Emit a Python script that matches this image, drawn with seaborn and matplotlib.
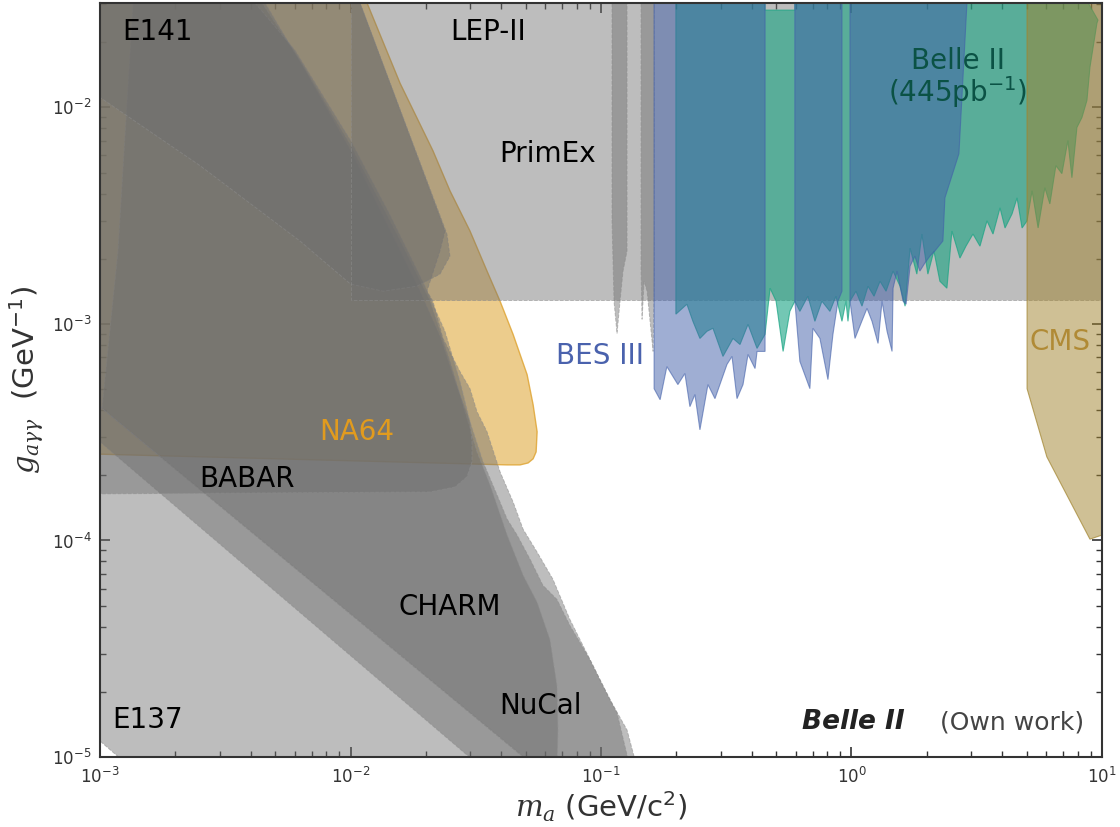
import numpy as np
import matplotlib
matplotlib.use("Agg")
import matplotlib.pyplot as plt
from matplotlib.colors import to_rgba
import seaborn as sns

# ---------------- data (log10 of m_a [GeV] and of g_agg [GeV^-1]) ----------------
LEP_LOGM = [-2.0, -2.0, 1.05, 1.05]
LEP_LOGG = [-1.45, -2.891, -2.891, -1.45]

E137_LOGM = [-3.05, -1.257, -2.876, -3.05]
E137_LOGG = [-3.334, -5.05, -5.05, -4.876]

NUCAL_OUT_LOGM = [-3.05, -1.475, -0.856, -0.896, -0.964, -1.044, -1.124, -1.192, -1.255, -1.311,
                  -1.351, -1.403, -1.455, -1.495, -1.523, -1.563, -1.631, -1.671, -1.695, -1.643,
                  -1.623, -1.962, -1.97, -3.05]
NUCAL_OUT_LOGG = [-3.495, -5.05, -5.05, -4.875, -4.736, -4.550, -4.365, -4.179, -4.054, -3.948,
                  -3.822, -3.683, -3.498, -3.405, -3.299, -3.220, -3.067, -2.895, -2.849, -2.663,
                  -2.571, -1.518, -1.45, -1.45]

NUCAL_IN_LOGM = [-3.05, -1.257, -0.884, -0.936, -0.992, -1.044, -1.124, -1.176, -1.232, -1.283,
                 -1.335, -1.375, -1.415, -1.471, -1.523, -1.583, -1.643, -1.723, -1.842, -2.0,
                 -2.182, -2.341, -2.36, -3.05]
NUCAL_IN_LOGG = [-3.334, -5.05, -5.05, -4.796, -4.671, -4.55, -4.393, -4.272, -4.207, -4.087,
                 -3.975, -3.901, -3.790, -3.637, -3.452, -3.266, -3.058, -2.849, -2.571, -2.2,
                 -1.829, -1.518, -1.45, -1.45]

CHARM_LOGM = [-2.868, -2.868, -2.928, -2.992, -1.257, -1.176, -1.172, -1.176, -1.204, -1.255,
              -1.311, -1.375, -1.443, -1.495, -1.543, -1.603, -1.683, -1.802, -2.0, -2.202,
              -2.353, -2.37]
CHARM_LOGG = [-1.45, -1.518, -2.663, -3.39, -5.05, -5.05, -4.875, -4.671, -4.458, -4.286,
              -4.161, -3.975, -3.744, -3.591, -3.405, -3.173, -2.895, -2.617, -2.177, -1.783,
              -1.518, -1.45]

BABAR_LOGM = [-3.05, -3.05, -1.683, -1.583, -1.535, -1.515, -1.515, -1.523, -1.563, -1.623,
              -1.703, -1.842, -2.0, -2.222, -2.381, -2.40]
BABAR_LOGG = [-1.45, -3.785, -3.776, -3.753, -3.706, -3.637, -3.544, -3.452, -3.266, -3.034,
              -2.826, -2.499, -2.153, -1.736, -1.518, -1.45]

E141_LOGM = [-3.05, -1.97, -1.962, -1.615, -1.603, -1.643, -1.735, -1.870, -2.0, -2.202,
             -2.601, -3.0, -3.05]
E141_LOGG = [-1.45, -1.45, -1.518, -2.585, -2.687, -2.770, -2.826, -2.849, -2.816, -2.617,
             -2.269, -1.954, -1.93]

NA64_LOGM = [-3.05, -1.375, -1.323, -1.291, -1.271, -1.259, -1.255, -1.271, -1.295, -1.351,
             -1.403, -1.455, -1.523, -1.603, -1.671, -1.802, -1.934, -1.952, -3.05]
NA64_LOGG = [-3.60, -3.651, -3.651, -3.642, -3.623, -3.591, -3.498, -3.373, -3.234, -3.048,
             -2.895, -2.756, -2.571, -2.385, -2.2, -1.889, -1.518, -1.45, -1.45]

PRIMEX1_LOGM = [-0.956, -0.956, -0.948, -0.936, -0.924, -0.912, -0.896, -0.896]
PRIMEX1_LOGG = [-1.45, -2.524, -2.895, -3.044, -2.895, -2.756, -2.663, -1.45]
PRIMEX2_LOGM = [-0.840, -0.840, -0.836, -0.828, -0.816, -0.804, -0.792, -0.788, -0.788]
PRIMEX2_LOGG = [-1.45, -2.756, -2.979, -2.803, -2.849, -2.988, -3.127, -2.803, -1.45]

BES1_LOGM = [-0.788, -0.788, -0.764, -0.737, -0.693, -0.665, -0.645, -0.625, -0.605, -0.573,
             -0.545, -0.497, -0.477, -0.457, -0.433, -0.413, -0.385, -0.377, -0.345, -0.345]
BES1_LOGG = [-1.45, -3.299, -3.350, -3.197, -3.280, -3.229, -3.382, -3.326, -3.489, -3.280,
             -3.345, -3.187, -3.150, -3.345, -3.280, -3.141, -3.206, -3.127, -3.127, -1.45]
BES2_LOGM = [-0.226, -0.226, -0.206, -0.166, -0.154, -0.126, -0.094, -0.074, -0.054, -0.038, -0.038]
BES2_LOGG = [-1.45, -2.895, -3.173, -3.299, -3.020, -3.067, -3.257, -3.048, -2.895, -2.849, -1.45]
BES3_LOGM = [-0.006, -0.006, 0.014, 0.046, 0.062, 0.082, 0.106, 0.122, 0.142, 0.162, 0.166,
             0.182, 0.206, 0.218, 0.234, 0.253, 0.273, 0.293, 0.313, 0.333, 0.365, 0.373,
             0.429, 0.461, 0.47]
BES3_LOGG = [-1.45, -2.895, -3.067, -2.974, -2.928, -2.988, -3.090, -2.895, -3.034, -3.127, -2.835,
             -2.756, -2.895, -2.909, -2.733, -2.687, -2.756, -2.719, -2.687, -2.663, -2.617, -2.418,
             -2.214, -1.518, -1.45]

BELLE_LOGM = [-0.701, -0.701, -0.657, -0.633, -0.605, -0.577, -0.553, -0.513, -0.473, -0.445,
              -0.413, -0.377, -0.345, -0.325, -0.301, -0.273, -0.246, -0.226, -0.206, -0.174,
              -0.146, -0.118, -0.086, -0.062, -0.038, -0.022, -0.014, -0.006, 0.018, 0.042,
              0.066, 0.090, 0.114, 0.138, 0.166, 0.194, 0.214, 0.234, 0.261, 0.281,
              0.305, 0.329, 0.353, 0.381, 0.401, 0.433, 0.457, 0.485, 0.513, 0.541,
              0.565, 0.593, 0.613, 0.641, 0.661, 0.681, 0.701, 0.721, 0.745, 0.772,
              0.792, 0.816, 0.840, 0.864, 0.880, 0.900, 0.920, 0.940, 0.952, 0.980,
              0.984, 0.912, -0.226, -0.226, -0.345, -0.345]
BELLE_LOGG = [-1.45, -2.955, -2.909, -2.988, -3.067, -3.034, -3.020, -3.150, -3.067, -3.095,
              -3.002, -3.113, -3.048, -2.835, -2.895, -3.127, -2.942, -2.895, -2.942, -2.872,
              -2.988, -2.895, -2.942, -2.872, -2.988, -2.895, -2.988, -2.895, -2.849, -2.918,
              -2.826, -2.872, -2.803, -2.849, -2.756, -2.826, -2.918, -2.650, -2.770, -2.585,
              -2.770, -2.663, -2.803, -2.835, -2.571, -2.696, -2.641, -2.585, -2.641, -2.524,
              -2.585, -2.464, -2.557, -2.492, -2.418, -2.557, -2.524, -2.385, -2.557, -2.371,
              -2.446, -2.269, -2.306, -2.153, -2.325, -2.093, -2.047, -1.968, -1.815, -1.611,
              -1.597, -1.45, -1.45, -1.551, -1.551, -1.45]

CMS_LOGM = [0.701, 0.701, 0.780, 0.952, 1.0, 1.05, 1.05]
CMS_LOGG = [-1.45, -3.299, -3.614, -3.994, -3.975, -3.95, -1.45]

# labels: (text, log m, log g)
LABELS_BLACK = [("LEP-II", -1.451, -1.653), ("PrimEx", -1.212, -2.214), ("BABAR", -2.413, -3.716),
                ("CHARM", -1.603, -4.309), ("NuCal", -1.240, -4.764)]

# ---------------- style ----------------
sns.set_style("ticks")
plt.rcParams["font.family"] = ["DejaVu Sans"]
plt.rcParams["mathtext.fontset"] = "custom"
plt.rcParams["mathtext.rm"] = "DejaVu Sans"
plt.rcParams["mathtext.it"] = "DejaVu Serif:italic"
plt.rcParams["mathtext.bf"] = "DejaVu Sans:bold"

GRAY = "#6e6e6e"
NA64_C = "#dea22e"
BELLE_C = "#16a382"
BES_C = "#415fa9"
CMS_C = "#a1832d"

fig = plt.figure(figsize=(11.2, 8.27), dpi=100)
ax = fig.add_axes([0.0893, 0.0846, 0.8946, 0.9118])
ax.set_xscale("log")
ax.set_yscale("log")


def region(lm, lg, color, alpha, edge=None, ls="-", lw=0.8, z=1):
    ax.fill(np.power(10.0, lm), np.power(10.0, lg), facecolor=to_rgba(color, alpha),
            edgecolor=edge if edge is not None else "none", linestyle=ls, linewidth=lw, zorder=z)


gray_edge = to_rgba("#8c8c8c", 0.55)
region(NA64_LOGM, NA64_LOGG, NA64_C, 0.55, edge=to_rgba(NA64_C, 0.8), lw=1.0, z=1)
for lm, lg in [(E137_LOGM, E137_LOGG), (NUCAL_OUT_LOGM, NUCAL_OUT_LOGG),
               (NUCAL_IN_LOGM, NUCAL_IN_LOGG), (CHARM_LOGM, CHARM_LOGG),
               (BABAR_LOGM, BABAR_LOGG), (E141_LOGM, E141_LOGG), (LEP_LOGM, LEP_LOGG),
               (PRIMEX1_LOGM, PRIMEX1_LOGG), (PRIMEX2_LOGM, PRIMEX2_LOGG)]:
    region(lm, lg, GRAY, 0.45, edge=gray_edge, ls="--", lw=0.7, z=2)

region(BELLE_LOGM, BELLE_LOGG, BELLE_C, 0.6, edge=to_rgba(BELLE_C, 0.7), z=3)
for lm, lg in [(BES1_LOGM, BES1_LOGG), (BES2_LOGM, BES2_LOGG), (BES3_LOGM, BES3_LOGG)]:
    region(lm, lg, BES_C, 0.5, edge=to_rgba(BES_C, 0.6), z=4)
region(CMS_LOGM, CMS_LOGG, CMS_C, 0.5, edge=to_rgba(CMS_C, 0.7), z=5)

ax.set_xlim(1e-3, 10)
ax.set_ylim(1e-5, 10 ** -1.518)

# ---------------- labels ----------------
fs = 20
for t, lm, lg in LABELS_BLACK:
    ax.text(10 ** lm, 10 ** lg, t, fontsize=fs, color="black", ha="center", va="center", zorder=10)
ax.text(10 ** -2.912, 10 ** -1.653, "E141", fontsize=fs, color="black", ha="left", va="center", zorder=10)
ax.text(10 ** -2.952, 10 ** -4.828, "E137", fontsize=fs, color="black", ha="left", va="center", zorder=10)
ax.text(10 ** -1.974, 10 ** -3.498, "NA64", fontsize=fs, color="#e19b1e", ha="center", va="center", zorder=10)
ax.text(10 ** -1.004, 10 ** -3.150, "BES III", fontsize=fs, color="#4a62ad", ha="center", va="center", zorder=10)
ax.text(10 ** 0.425, 10 ** -1.787, "Belle II", fontsize=fs, color="#0b5245", ha="center", va="center", zorder=10)
ax.text(10 ** 0.425, 10 ** -1.93, "(445pb$^{-1}$)", fontsize=fs, color="#0b5245", ha="center", va="center", zorder=10)
ax.text(10 ** 0.832, 10 ** -3.085, "CMS", fontsize=fs, color="#b08a35", ha="center", va="center", zorder=10)

ax.text(0.803, 0.046, "Belle II", transform=ax.transAxes, fontsize=19, fontweight="bold",
        fontstyle="italic", color="#222222", ha="right", va="center", zorder=10)
ax.text(0.982, 0.046, "(Own work)", transform=ax.transAxes, fontsize=18, color="#444444",
        ha="right", va="center", zorder=10)

ax.set_xlabel(r"$m_a$ (GeV/c$^2$)", fontsize=21, color="#333333", labelpad=2)
ax.set_ylabel(r"$g_{a\gamma\gamma}$  (GeV$^{-1}$)", fontsize=21, color="#333333", labelpad=4)

ax.tick_params(which="both", direction="in", top=True, right=True, colors="#333333", labelsize=12)
ax.tick_params(axis="x", which="major", pad=7)
ax.tick_params(axis="y", which="major", pad=6)
ax.tick_params(which="major", length=7, width=1.2)
ax.tick_params(which="minor", length=4, width=1.0)
for s in ax.spines.values():
    s.set_color("#333333")
    s.set_linewidth(1.5)
    s.set_zorder(20)

fig.savefig("out.png", dpi=100)
